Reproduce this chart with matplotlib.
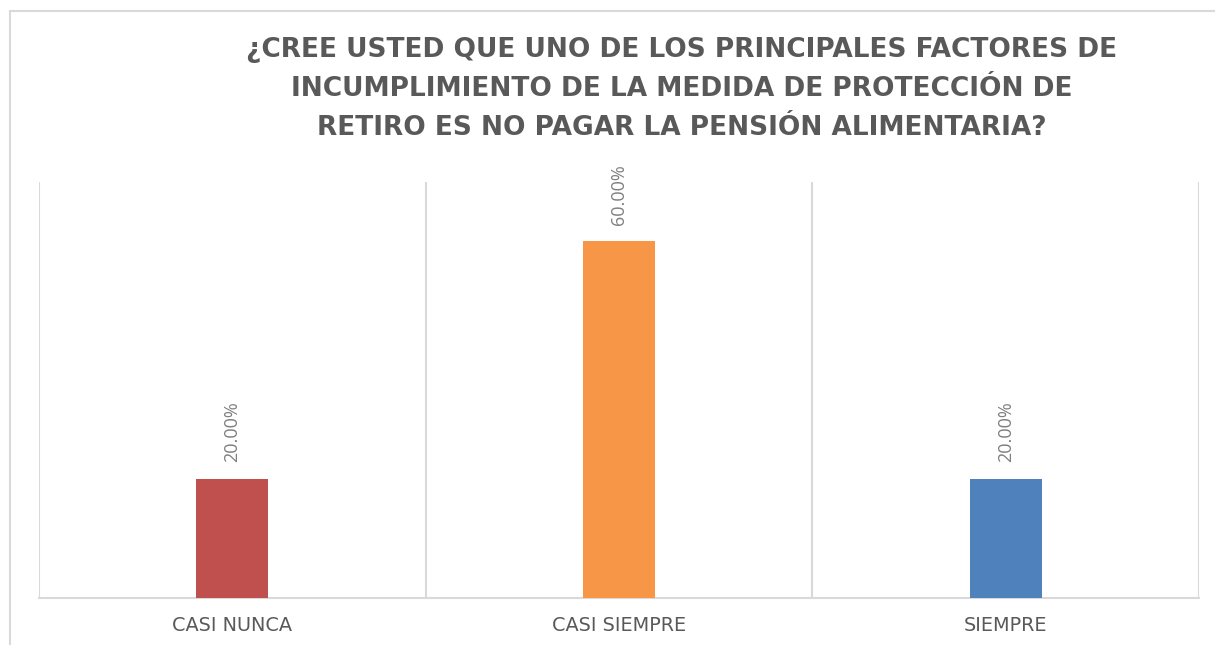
import numpy as np
import matplotlib
matplotlib.use("Agg")
from matplotlib import pyplot as plt
from matplotlib.patches import Rectangle

categories = ["CASI NUNCA", "CASI SIEMPRE", "SIEMPRE"]
values = [0.20, 0.60, 0.20]
value_labels = ["20.00%", "60.00%", "20.00%"]
bar_colors = ["#C0504D", "#F79646", "#4F81BD"]
title_lines = ["¿CREE USTED QUE UNO DE LOS PRINCIPALES FACTORES DE",
               "INCUMPLIMIENTO DE LA MEDIDA DE PROTECCIÓN DE",
               "RETIRO ES NO PAGAR LA PENSIÓN ALIMENTARIA?"]

W, H = 1215, 645
plt.rcParams['font.family'] = ['Open Sans', 'DejaVu Sans']
fig = plt.figure(figsize=(W / 100, H / 100), dpi=100)
fig.patch.set_facecolor('white')
renderer = fig.canvas.get_renderer()

def fit_size(txt, target_w, **kw):
    # font size that makes txt about target_w pixels wide
    probe = fig.text(0, 0, txt, fontsize=20, **kw)
    w = probe.get_window_extent(renderer).width
    probe.remove()
    return 20 * target_w / w

# chart frame (only left/top visible in the original)
fig.patches.append(Rectangle((10 / W, -0.1), 1.2, 1 - 11 / H + 0.1,
                             transform=fig.transFigure, fill=False,
                             edgecolor='#D9D9D9', linewidth=1.5))

ax = fig.add_axes([39 / W, 1 - 598 / H, (1199 - 39) / W, (598 - 182) / H])
x = np.arange(len(categories))
ax.bar(x, values, width=0.186, color=bar_colors, zorder=3)
ax.set_xlim(-0.5, len(categories) - 0.5)
ax.set_ylim(0, 0.70)

for xi, v, lab in zip(x, values, value_labels):
    ax.annotate(lab, (xi, v), xytext=(0, 12), textcoords='offset points',
                rotation=90, ha='center', va='bottom', fontsize=13,
                color='#7F7F7F')

cat_size = fit_size(categories[0], 120, family='DejaVu Sans')
ax.set_xticks(x)
ax.set_xticklabels(categories, fontsize=cat_size, color='#595959',
                   family='DejaVu Sans')
ax.tick_params(axis='x', length=0, pad=13)
ax.set_xticks(np.arange(-0.5, len(categories)), minor=True)
ax.tick_params(axis='x', which='minor', length=0)
ax.grid(axis='x', which='minor', color='#D9D9D9', linewidth=1.5, zorder=0)
ax.set_yticks([])
for s in ['top', 'right', 'left']:
    ax.spines[s].set_visible(False)
ax.spines['bottom'].set_color('#D9D9D9')
ax.spines['bottom'].set_linewidth(1.5)

# title: wide font to get close to the spaced-out lettering of the original
tsize = fit_size(title_lines[0], 870, family='DejaVu Sans', fontweight='bold')
title_y = [50, 89, 128]
for line, yy in zip(title_lines, title_y):
    fig.text(682 / W, 1 - yy / H, line, ha='center', va='center',
             fontsize=tsize, fontweight='bold', color='#595959',
             family='DejaVu Sans')

fig.savefig("out.png", dpi=100)
